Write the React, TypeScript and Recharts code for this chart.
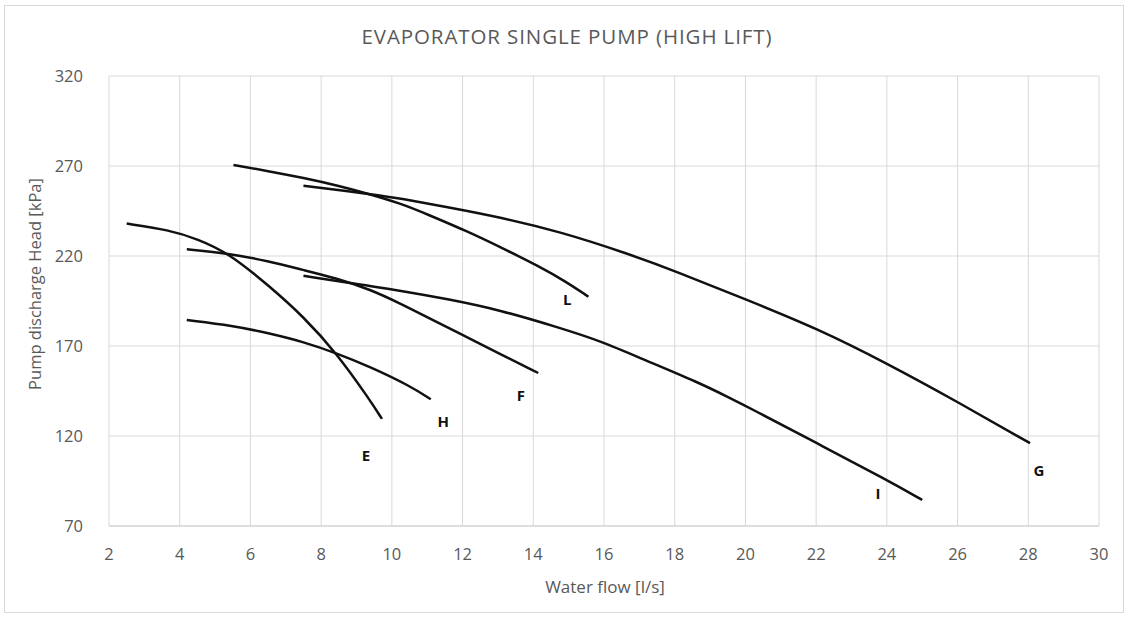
import { LineChart, Line, Scatter, XAxis, YAxis, CartesianGrid } from 'recharts';

// pump curves (flow l/s, head kPa)
const curveE = [
  { x: 2.5, y: 238 }, { x: 3.7, y: 234.5 }, { x: 4.5, y: 229.5 }, { x: 5.4, y: 221.5 },
  { x: 6.55, y: 203 }, { x: 7.5, y: 186.3 }, { x: 8.44, y: 166 }, { x: 9.38, y: 140 },
  { x: 9.72, y: 129.5 },
];
const curveH = [
  { x: 4.2, y: 184.4 }, { x: 5.5, y: 181.3 }, { x: 6.55, y: 177 }, { x: 7.5, y: 172.3 },
  { x: 8.44, y: 166 }, { x: 9.38, y: 158.5 }, { x: 10.5, y: 148 }, { x: 11.1, y: 140.4 },
];
const curveF = [
  { x: 4.2, y: 223.7 }, { x: 5.37, y: 221.5 }, { x: 6.5, y: 217.2 }, { x: 7.5, y: 212.2 },
  { x: 8.4, y: 207.8 }, { x: 9.38, y: 201.5 }, { x: 10.23, y: 193.7 }, { x: 11.18, y: 184.2 },
  { x: 12.12, y: 175 }, { x: 13.06, y: 165.6 }, { x: 14.14, y: 155 },
];
const curveI = [
  { x: 7.5, y: 209 }, { x: 9.3, y: 203.5 }, { x: 10.23, y: 200.8 }, { x: 11.6, y: 196 },
  { x: 13.06, y: 190 }, { x: 14.76, y: 180 }, { x: 15.9, y: 172.8 }, { x: 17.12, y: 162.5 },
  { x: 18.7, y: 149.5 }, { x: 19.47, y: 142 }, { x: 20.13, y: 135.5 }, { x: 22.02, y: 116 },
  { x: 24, y: 95.6 }, { x: 25, y: 84.5 },
];
const curveL = [
  { x: 5.52, y: 270.6 }, { x: 6.5, y: 267.2 }, { x: 7.5, y: 263.4 }, { x: 8.5, y: 259 },
  { x: 9.29, y: 254.8 }, { x: 10.23, y: 249.3 }, { x: 11, y: 243.2 }, { x: 12.12, y: 233.8 },
  { x: 13.06, y: 225 }, { x: 14.19, y: 214 }, { x: 14.9, y: 206 }, { x: 15.56, y: 197.4 },
];
const curveG = [
  { x: 7.5, y: 259 }, { x: 9.57, y: 254 }, { x: 10.23, y: 252 }, { x: 11.6, y: 247 },
  { x: 13.06, y: 241.5 }, { x: 14.76, y: 233.5 }, { x: 16.65, y: 221.5 }, { x: 18.06, y: 211.3 },
  { x: 20.04, y: 195.6 }, { x: 22.02, y: 179.8 }, { x: 24, y: 160.4 }, { x: 26.07, y: 138.2 },
  { x: 28.05, y: 116 },
];

const curveLabels = [
  { x: 9.27, y: 109.5, name: 'E' },
  { x: 11.45, y: 128.5, name: 'H' },
  { x: 13.65, y: 143, name: 'F' },
  { x: 14.96, y: 196, name: 'L' },
  { x: 23.75, y: 88.5, name: 'I' },
  { x: 28.3, y: 101, name: 'G' },
];

const xTicks = [2, 4, 6, 8, 10, 12, 14, 16, 18, 20, 22, 24, 26, 28, 30];
const yTicks = [70, 120, 170, 220, 270, 320];

const curves = [curveE, curveH, curveF, curveI, curveL, curveG];

const font = '"Open Sans", sans-serif';
const grey = '#595959';
const tickStyle = { fill: grey, fontSize: 16.5, fontFamily: font };

const LabelShape = (props: any) => (
  <text
    x={props.cx}
    y={props.cy}
    textAnchor="middle"
    dominantBaseline="central"
    fontFamily={font}
    fontWeight={700}
    fontSize={15}
    fill="#111"
  >
    {props.payload.name}
  </text>
);

export default function App() {
  return (
    <div style={{ position: 'absolute', left: 0, top: 0, width: 1130, height: 620, background: '#fff', fontFamily: font, color: grey }}>
      <div
        style={{
          position: 'absolute',
          left: 4,
          top: 5,
          width: 1118,
          height: 606,
          border: '1px solid #d9d9d9',
        }}
      />
      <div
        style={{
          position: 'absolute',
          top: 21,
          left: 0,
          width: 1134,
          textAlign: 'center',
          fontSize: 20.5,
          lineHeight: '30px',
          letterSpacing: 0.9,
        }}
      >
        EVAPORATOR SINGLE PUMP (HIGH LIFT)
      </div>
      <LineChart
        width={1130}
        height={620}
        margin={{ top: 76, right: 31, bottom: 64, left: 39 }}
        style={{ position: 'absolute', left: 0, top: 0 }}
      >
        <CartesianGrid stroke="#d9d9d9" />
        <XAxis
          type="number"
          dataKey="x"
          domain={[2, 30]}
          ticks={xTicks}
          allowDataOverflow
          tick={tickStyle}
          tickLine={false}
          axisLine={{ stroke: '#cfcfcf' }}
          tickMargin={16}
        />
        <YAxis
          type="number"
          domain={[70, 320]}
          ticks={yTicks}
          allowDataOverflow
          width={70}
          tick={tickStyle}
          tickLine={false}
          axisLine={false}
          tickMargin={20}
        />
        {curves.map((c, i) => (
          <Line
            key={i}
            data={c}
            dataKey="y"
            type="basis"
            stroke="#111"
            strokeWidth={2.5}
            dot={false}
            activeDot={false}
            isAnimationActive={false}
          />
        ))}
        <Scatter data={curveLabels} dataKey="y" shape={LabelShape} isAnimationActive={false} />
      </LineChart>
      <div
        style={{
          position: 'absolute',
          left: 405,
          top: 573,
          width: 400,
          textAlign: 'center',
          fontSize: 17,
          lineHeight: '28px',
        }}
      >
        Water flow [l/s]
      </div>
      <div
        style={{
          position: 'absolute',
          left: 35 - 150,
          top: 284 - 14,
          width: 300,
          textAlign: 'center',
          fontSize: 16.5,
          lineHeight: '28px',
          transform: 'rotate(-90deg)',
        }}
      >
        Pump discharge Head [kPa]
      </div>
    </div>
  );
}
